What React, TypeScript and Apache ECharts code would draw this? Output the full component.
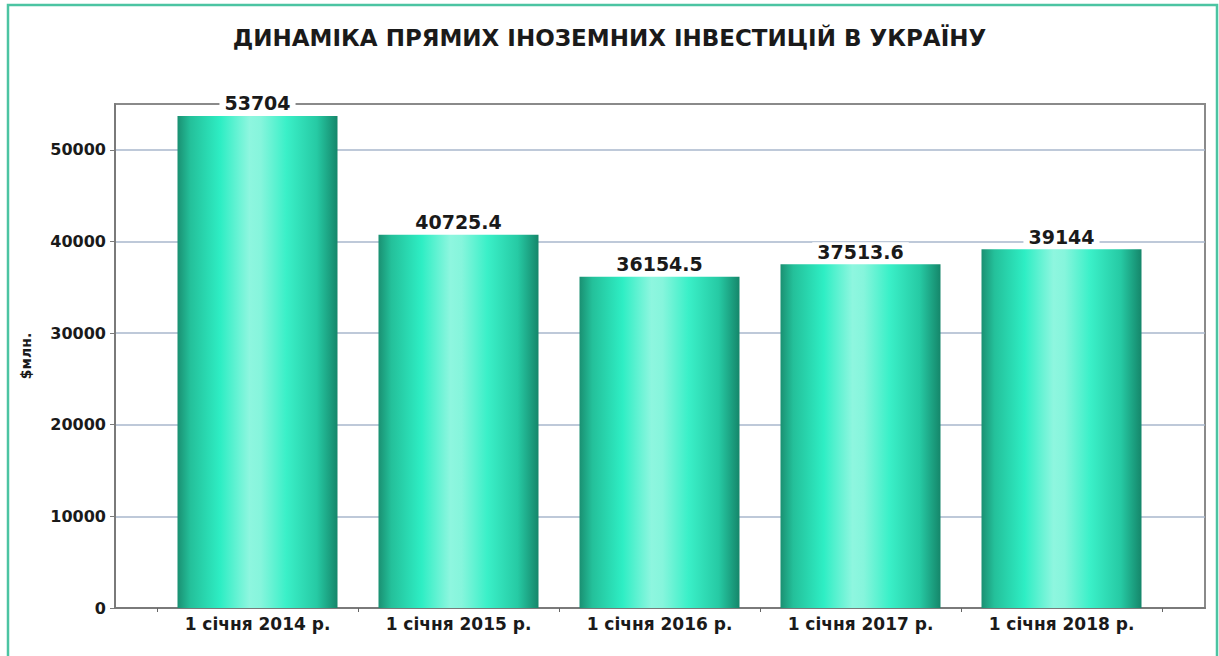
import React, { useEffect, useRef } from "react";
import * as echarts from "echarts";

const categories = ["1 січня 2014 р.", "1 січня 2015 р.", "1 січня 2016 р.", "1 січня 2017 р.", "1 січня 2018 р."];
const values = [53704, 40725.4, 36154.5, 37513.6, 39144];
const yTicks = [0, 10000, 20000, 30000, 40000, 50000];
const titleText = "ДИНАМІКА ПРЯМИХ ІНОЗЕМНИХ ІНВЕСТИЦІЙ В УКРАЇНУ";
const yName = "$млн.";

const FONT = "'DejaVu Sans', 'Liberation Sans', Arial, sans-serif";

export default function App() {
  const ref = useRef<HTMLDivElement>(null);
  useEffect(() => {
    if (!ref.current) return;
    const chart = echarts.init(ref.current, undefined, { renderer: "svg" });
    const barGradient = new echarts.graphic.LinearGradient(0, 0, 1, 0, [
      { offset: 0, color: "#1a9072" },
      { offset: 0.08, color: "#24c09a" },
      { offset: 0.27, color: "#2eeec4" },
      { offset: 0.45, color: "#8ef6df" },
      { offset: 0.52, color: "#86f5dc" },
      { offset: 0.68, color: "#3af0c8" },
      { offset: 0.87, color: "#26caa4" },
      { offset: 1, color: "#15866a" },
    ]);
    chart.setOption({
      animation: false,
      backgroundColor: "#ffffff",
      title: {
        text: titleText,
        left: "center",
        top: 21,
        textStyle: { fontFamily: FONT, fontSize: 23, fontWeight: "bold", color: "#1a1a1a" },
      },
      graphic: [
        {
          type: "rect",
          shape: { x: 8, y: 5, width: 1209, height: 660 },
          style: { fill: "none", stroke: "#4cc4a2", lineWidth: 2.5 },
          silent: true,
        },
      ],
      grid: [
        { left: 115, right: 14, top: 104, bottom: 48, show: true, borderColor: "#8a8a8a", borderWidth: 2, backgroundColor: "transparent" },
        { left: 157, right: 57, top: 104, bottom: 48 },
      ],
      xAxis: [
        {
          type: "value",
          gridIndex: 0,
          min: 0,
          max: 1,
          axisLine: { show: true, lineStyle: { color: "#7a7a7a", width: 2 } },
          axisTick: { show: false },
          axisLabel: { show: false },
          splitLine: { show: false },
        },
        {
          type: "category",
          gridIndex: 1,
          data: categories,
          axisLine: { show: false },
          axisTick: { show: true, length: 4, lineStyle: { color: "#666" } },
          axisLabel: { fontFamily: FONT, fontSize: 17, fontWeight: "bold", color: "#1a1a1a", margin: 7 },
        },
      ],
      yAxis: [
        {
          type: "value",
          gridIndex: 0,
          min: 0,
          max: 55000,
          interval: 10000,
          name: yName,
          nameLocation: "middle",
          nameGap: 82,
          nameRotate: 90,
          nameTextStyle: { fontFamily: FONT, fontSize: 14, fontWeight: "bold", color: "#1a1a1a" },
          axisLine: { show: true, lineStyle: { color: "#7a7a7a", width: 2 } },
          axisTick: { show: true, length: 5, customValues: yTicks, lineStyle: { color: "#7a7a7a" } },
          axisLabel: {
            fontFamily: FONT,
            fontSize: 16,
            fontWeight: "bold",
            color: "#1a1a1a",
            margin: 9,
            customValues: yTicks,
            formatter: (v: number) => (yTicks.indexOf(v) >= 0 ? String(v) : ""),
          },
          splitLine: { show: true, lineStyle: { color: "#a9b7cc", width: 1.5 } },
        },
        {
          type: "value",
          gridIndex: 1,
          min: 0,
          max: 55000,
          interval: 10000,
          show: false,
          splitLine: { show: false },
        },
      ],
      series: [
        {
          type: "bar",
          xAxisIndex: 1,
          yAxisIndex: 1,
          data: values,
          barWidth: 160,
          itemStyle: { color: barGradient },
          label: {
            show: true,
            position: "top",
            distance: 3,
            fontFamily: FONT,
            fontSize: 19,
            fontWeight: "bold",
            color: "#1a1a1a",
            backgroundColor: "#ffffff",
            padding: [0, 5],
            formatter: (p: any) => String(p.value),
          },
        },
      ],
    });
    return () => chart.dispose();
  }, []);
  return (
    <div
      ref={ref}
      style={{ position: "absolute", left: 0, top: 0, width: 1219, height: 656, background: "#fff" }}
    />
  );
}
